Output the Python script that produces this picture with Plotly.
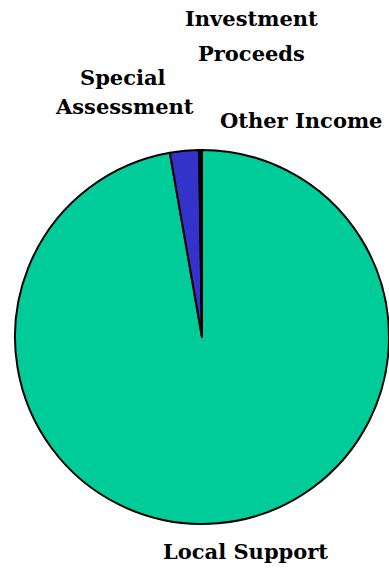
import plotly.graph_objects as go

labels = ["Local Support", "Special Assessment", "Investment Proceeds", "Other Income"]
values = [97.25, 2.5, 0.13, 0.12]
colors = ["#00CC99", "#3333CC", "#1a1a66", "#00CC99"]

W, H = 389, 573
cx, cy, r = 202, 337, 187  # pixel geometry of pie

fig = go.Figure(go.Pie(
    labels=labels, values=values, sort=False, direction="clockwise", rotation=0,
    marker=dict(colors=colors, line=dict(color="black", width=2)),
    textinfo="none", hoverinfo="label+percent", showlegend=False,
    domain=dict(x=[(cx - r) / W, min(1, (cx + r) / W)],
                y=[(H - cy - 200) / H, (H - cy + 200) / H]),
))

font = dict(family="DejaVu Serif, serif", size=21, color="black", weight="bold")
label_pos = [
    ("Investment", 252, 18),
    ("Proceeds", 252, 53),
    ("Special", 123, 77),
    ("Assessment", 124, 106),
    ("Other Income", 301, 120),
    ("Local Support", 245, 551),
]
for txt, x, y in label_pos:
    fig.add_annotation(text="<b>%s</b>" % txt, x=x / W, y=1 - y / H, xref="paper", yref="paper",
                       showarrow=False, font=font, xanchor="center", yanchor="middle")

fig.update_layout(width=W, height=H, margin=dict(l=0, r=0, t=0, b=0),
                  paper_bgcolor="white", plot_bgcolor="white")
fig.write_html("out.html")
